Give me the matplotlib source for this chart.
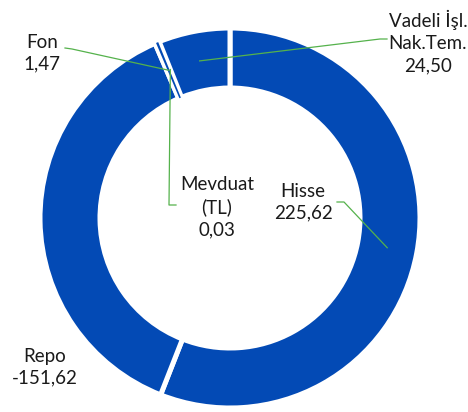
import matplotlib.pyplot as plt
import numpy as np
from matplotlib.patches import Wedge

plt.rcParams['font.family'] = ['Lato', 'DejaVu Sans']

# data (TL)
names = ['Hisse', 'Repo', 'Fon', 'Mevduat\n(TL)', 'Vadeli İşl.\nNak.Tem.']
values = [225.62, -151.62, 1.47, 0.03, 24.50]

# layout in pixels (figure is 468 x 412)
W, H = 468, 412
cx, cy = 230, 218
r_out, ring = 190, 60
label_pos = [(303, 202), (45, 367), (42, 53), (217, 207), (428, 42)]
# leader line elbows (text side) per slice, None = no leader
leaders = [[(337, 202), (344, 202)], None, [(65, 48), (72, 49)],
           [(176, 205), (169, 205)], [(387, 39), (380, 39)]]

blue = '#034AB5'
green = '#55B24C'

fig = plt.figure(figsize=(W / 100, H / 100), dpi=100)
ax = fig.add_axes([0, 0, 1, 1])
ax.set_xlim(0, W)
ax.set_ylim(0, H)
ax.set_aspect('equal')
ax.axis('off')

sizes = np.abs(values)
wedges, _ = ax.pie(sizes, startangle=90, counterclock=False, radius=r_out,
                   center=(cx, H - cy), colors=[blue] * len(sizes),
                   wedgeprops=dict(width=ring, edgecolor='white', linewidth=3.6))
ax.set_xlim(0, W)
ax.set_ylim(0, H)

# thin slices get swallowed by the white borders, redraw a narrow core
for w in wedges:
    span = w.theta2 - w.theta1
    if 0.5 < span < 3:
        m = (w.theta1 + w.theta2) / 2
        ax.add_patch(Wedge((cx, H - cy), r_out, m - 0.35, m + 0.35, width=ring,
                           facecolor=blue, edgecolor='none', zorder=3))

for w, name, v, pos, lead in zip(wedges, names, values, label_pos, leaders):
    txt = name + '\n' + f'{v:.2f}'.replace('.', ',')
    ax.text(pos[0], H - pos[1], txt, ha='center', va='center', fontsize=13.5,
            color='#1a1a1a', linespacing=1.35)
    if lead is not None:
        mid = np.deg2rad((w.theta1 + w.theta2) / 2)
        ax_pt = (cx + 160 * np.cos(mid), H - cy + 160 * np.sin(mid))
        xs = [p[0] for p in lead] + [ax_pt[0]]
        ys = [H - p[1] for p in lead] + [ax_pt[1]]
        ax.plot(xs, ys, color=green, lw=0.9, zorder=4)

fig.savefig('out.png', dpi=100)
